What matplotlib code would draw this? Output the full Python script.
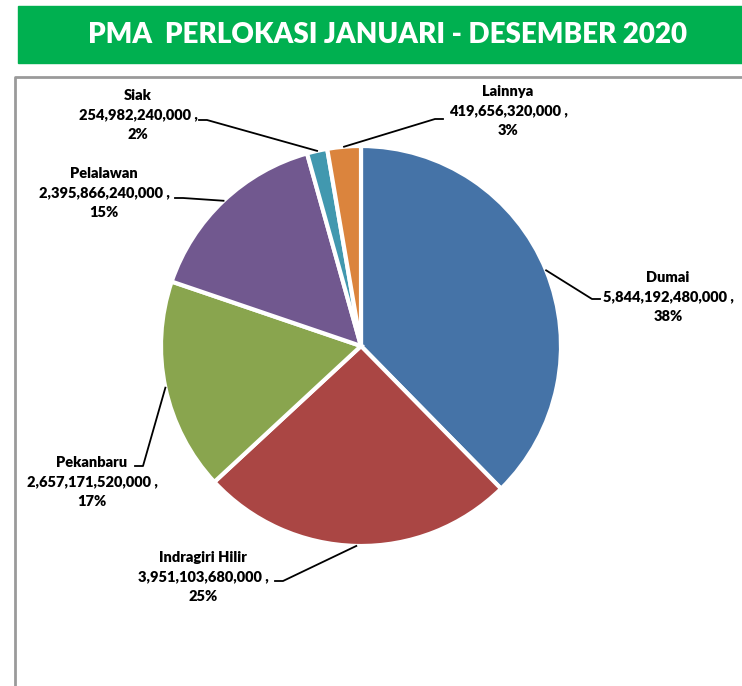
import numpy as np
import matplotlib
matplotlib.use("Agg")
import matplotlib.pyplot as plt
from matplotlib.patches import Rectangle
from matplotlib.lines import Line2D

# ─── Data ───
locations = ["Dumai", "Indragiri Hilir", "Pekanbaru", "Pelalawan", "Siak", "Lainnya"]
values = [5844192480000, 3951103680000, 2657171520000, 2395866240000,
          254982240000, 419656320000]
colors = ["#4573A7", "#AA4644", "#89A54E", "#71588F", "#4198AF", "#DB843D"]

# label centre (px) and elbow of the leader line (px), figure pixel coords from top
label_pos = [(668, 297), (203, 577), (92, 482), (104, 193), (138, 115), (508, 111)]
elbow_pos = [(592, 299), (283, 581), (143, 466), (183, 198), (207, 120), (435, 119)]
line_side = ["left", "right", "right", "right", "right", "left"]

W, H = 742, 686
CX, CY, R = 361, 346, 200

fig = plt.figure(figsize=(W / 100, H / 100), dpi=100)
ax = fig.add_axes([0, 0, 1, 1])

# title banner
fig.patches.append(Rectangle((18 / W, 1 - 63 / H), (W - 18) / W, 57 / H,
                             transform=fig.transFigure, color="#00B050", zorder=0))
fig.text(388 / W, 1 - 35 / H, "PMA  PERLOKASI JANUARI - DESEMBER 2020",
         ha="center", va="center", color="white", fontsize=20,
         fontweight="heavy", family="Lato")

# chart frame (only top and left edges are visible)
fig.lines.append(Line2D([15 / W, 15 / W, 1], [0, 1 - 77 / H, 1 - 77 / H],
                        transform=fig.transFigure, color="#9a9a9a", lw=2))

total = sum(values)
wedges, _ = ax.pie(values, colors=colors, startangle=90, counterclock=False,
                   center=(CX, H - CY), radius=R,
                   wedgeprops=dict(edgecolor="white", linewidth=3))
ax.set_xlim(0, W)
ax.set_ylim(0, H)
ax.set_aspect("equal")
ax.axis("off")

for name, val, w, (lx, ly), (ex, ey), side in zip(
        locations, values, wedges, label_pos, elbow_pos, line_side):
    mid = np.deg2rad((w.theta1 + w.theta2) / 2)
    px, py = CX + R * np.cos(mid), (H - CY) + R * np.sin(mid)
    end_x = ex + (8 if side == "left" else -8)
    ax.plot([px, ex, end_x], [py, H - ey, H - ey], color="black", lw=1.3, zorder=3)
    pct = round(val / total * 100)
    ax.text(lx, H - ly, f"{name}\n{val:,} ,\n{pct}%", ha="center", va="center",
            fontsize=10.5, fontweight="heavy", family="Lato", linespacing=1.55)

fig.savefig("out.png", dpi=100)
